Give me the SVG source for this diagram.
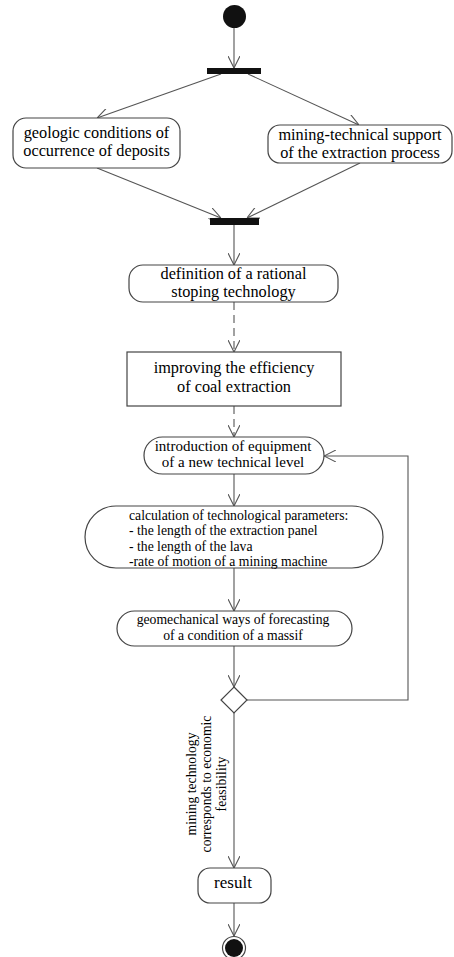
<svg xmlns="http://www.w3.org/2000/svg" width="454" height="957" viewBox="0 0 454 957">
<style>
.box{fill:#fff;stroke:#444;stroke-width:1.2}
.bar{fill:#111}
.ln{fill:none;stroke:#555;stroke-width:1.1;marker-end:url(#arr)}
.dash{stroke-dasharray:8,5}
.t16{font-family:"Liberation Serif","Times New Roman",serif;font-size:16.3px;fill:#000;text-anchor:middle}
.t15{font-family:"Liberation Serif","Times New Roman",serif;font-size:15px;fill:#000;text-anchor:middle}
.t14{font-family:"Liberation Serif","Times New Roman",serif;font-size:13.7px;fill:#000;text-anchor:middle}
.tl{text-anchor:start}
</style>
<defs>
<marker id="arr" viewBox="0 0 12 12" refX="12" refY="6" markerWidth="12" markerHeight="12" markerUnits="userSpaceOnUse" orient="auto">
<path d="M0,0 L12,6 L0,12" fill="none" stroke="#555" stroke-width="1.1"/>
</marker>
</defs>
<rect width="454" height="957" fill="#fff"/>
<g id="connectors">
<line class="ln" x1="234" y1="28" x2="234" y2="68"/>
<line class="ln" x1="221" y1="74" x2="97" y2="118"/>
<line class="ln" x1="248" y1="74" x2="359" y2="125"/>
<line class="ln" x1="97" y1="168" x2="221" y2="218"/>
<line class="ln" x1="360" y1="163" x2="247" y2="218"/>
<line class="ln" x1="234" y1="225" x2="234" y2="265"/>
<line class="ln dash" x1="234" y1="302" x2="234" y2="352"/>
<line class="ln dash" x1="234" y1="406" x2="234" y2="437"/>
<line class="ln" x1="234" y1="474" x2="234" y2="506"/>
<line class="ln" x1="234" y1="568" x2="234" y2="611"/>
<line class="ln" x1="234" y1="646" x2="234" y2="687"/>
<polyline class="ln" points="247,700 408,700 408,456 324,456"/>
<line class="ln" x1="234" y1="713" x2="234" y2="868"/>
<line class="ln" x1="234" y1="903" x2="234" y2="936"/>
</g>
<g id="start"><circle cx="234.5" cy="16.5" r="11.5" fill="#111"/></g>
<g id="fork"><rect class="bar" x="207" y="68" width="54" height="6"/></g>
<g id="geologic">
<rect class="box" x="13" y="118" width="167" height="50" rx="13"/>
<text class="t16" x="96.5" y="137.5">geologic conditions of</text>
<text class="t16" x="96.5" y="156">occurrence of deposits</text>
</g>
<g id="mining-support">
<rect class="box" x="268" y="125" width="184" height="38" rx="12"/>
<text class="t16" x="360" y="140">mining-technical support</text>
<text class="t16" x="360" y="158">of the extraction process</text>
</g>
<g id="join"><rect class="bar" x="210" y="218" width="49" height="7"/></g>
<g id="definition">
<rect class="box" x="129" y="265" width="209" height="37" rx="14"/>
<text class="t16" x="233.5" y="279">definition of a rational</text>
<text class="t16" x="233.5" y="296.5">stoping technology</text>
</g>
<g id="improving">
<rect class="box" x="127" y="352" width="214" height="54"/>
<text class="t16" x="234" y="373">improving the efficiency</text>
<text class="t16" x="234" y="392">of coal extraction</text>
</g>
<g id="introduction">
<rect class="box" x="144" y="437" width="180" height="37" rx="18.5"/>
<text class="t15" x="233" y="450.5">introduction of equipment</text>
<text class="t15" x="233" y="467">of a new technical level</text>
</g>
<g id="calculation">
<rect class="box" x="85" y="506" width="298" height="62" rx="31"/>
<text class="t14 tl" x="129" y="519.5">calculation of technological parameters:</text>
<text class="t14 tl" x="129" y="535">- the length of the extraction panel</text>
<text class="t14 tl" x="129" y="550.5">- the length of the lava</text>
<text class="t14 tl" x="129" y="566">-rate of motion of a mining machine</text>
</g>
<g id="geomechanical">
<rect class="box" x="117" y="611" width="235" height="35" rx="17.5"/>
<text class="t14" x="233" y="624">geomechanical ways of forecasting</text>
<text class="t14" x="233" y="639.5">of a condition of a massif</text>
</g>
<g id="decision"><polygon class="box" points="234,687 247,700 234,713 221,700"/></g>
<g id="guard">
<text class="t14" transform="translate(196,784) rotate(-90)">mining technology</text>
<text class="t14" transform="translate(211,784) rotate(-90)">corresponds to economic</text>
<text class="t14" transform="translate(226,784) rotate(-90)">feasibility</text>
</g>
<g id="result">
<rect class="box" x="198" y="868" width="73" height="35" rx="12"/>
<text class="t16" x="233" y="888" style="font-size:17px">result</text>
</g>
<g id="end">
<circle cx="234" cy="948" r="11.5" fill="#fff" stroke="#444" stroke-width="1.2"/>
<circle cx="234" cy="948" r="9" fill="#111"/>
</g>
</svg>
